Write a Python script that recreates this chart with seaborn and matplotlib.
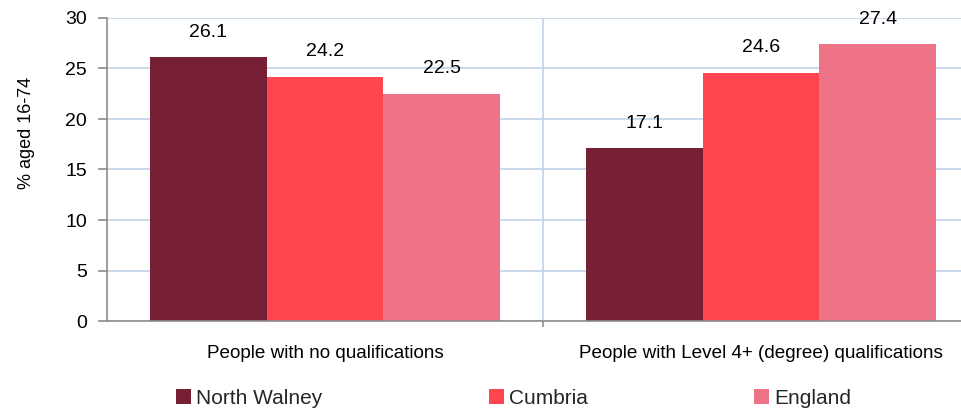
import matplotlib
matplotlib.use("Agg")
import matplotlib.pyplot as plt
from matplotlib.patches import Patch
from matplotlib.ticker import FixedLocator
import seaborn as sns
import pandas as pd

categories = ["People with no qualifications", "People with Level 4+ (degree) qualifications"]
areas = ["North Walney", "Cumbria", "England"]
north_walney = [26.1, 17.1]
cumbria = [24.2, 24.6]
england = [22.5, 27.4]
colors = ["#761F35", "#FF4650", "#EE7387"]
y_ticks = [0, 5, 10, 15, 20, 25, 30]

df = pd.DataFrame({
    "category": categories * 3,
    "area": [a for a in areas for _ in categories],
    "value": north_walney + cumbria + england,
})

sns.set_theme(style="white")
plt.rcParams["font.family"] = ["Liberation Sans", "DejaVu Sans"]

fig = plt.figure(figsize=(9.62, 4.11), dpi=100)
ax = fig.add_axes([107 / 962, 1 - 321 / 411, 872 / 962, 303 / 411])

sns.barplot(data=df, x="category", y="value", hue="area", hue_order=areas,
            order=categories, palette=colors, width=0.805, gap=0,
            linewidth=0, saturation=1, legend=False, ax=ax)

for cont in ax.containers:
    ax.bar_label(cont, fmt="%.1f", padding=12, fontsize=14, color="#000000")

ax.set_ylim(0, 30)
ax.set_xlim(-0.5, 1.5)
ax.set_yticks(y_ticks)
ax.set_xlabel("")
ax.set_ylabel("% aged 16-74", fontsize=13, color="#000000")
ax.yaxis.set_label_coords(-0.083, 0.62)

grid_c = "#C5D6EA"
ax.yaxis.grid(True, color=grid_c, linewidth=1.3)
ax.xaxis.set_minor_locator(FixedLocator([0.5]))
ax.xaxis.grid(True, which="minor", color=grid_c, linewidth=1.3)
ax.set_axisbelow(True)

for s in ["top", "right"]:
    ax.spines[s].set_visible(False)
for s in ["left", "bottom"]:
    ax.spines[s].set_color("#8C8C8C")
    ax.spines[s].set_linewidth(1.2)

ax.tick_params(axis="y", which="major", left=True, length=6.5, width=1.2,
               color="#8C8C8C", pad=8, labelsize=14, labelcolor="#000000")
ax.tick_params(axis="x", which="major", bottom=True, length=0, pad=17,
               labelsize=13.6, labelcolor="#000000")
ax.tick_params(axis="x", which="minor", bottom=True, length=4.5, width=1.2,
               color="#8C8C8C")

handles = [Patch(facecolor=c, edgecolor="none", label=a) for a, c in zip(areas, colors)]
fig.legend(handles=handles, loc="upper left", bbox_to_anchor=(176 / 962, 1 - 389 / 411),
           ncol=3, frameon=False, fontsize=15, handlelength=0.72, handleheight=0.72,
           handletextpad=0.24, columnspacing=8.0, borderpad=0, borderaxespad=0)

fig.savefig("out.png", dpi=100)
